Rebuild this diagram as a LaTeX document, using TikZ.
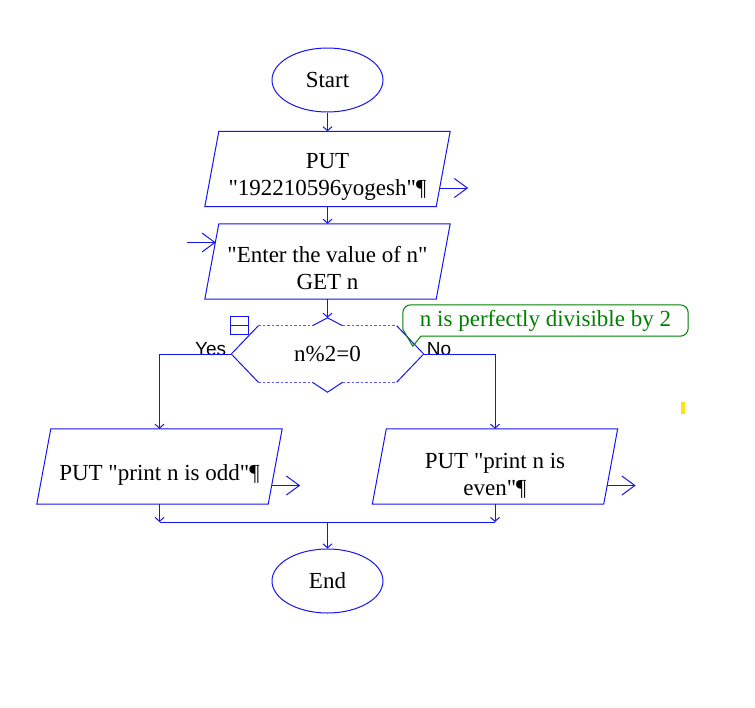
\documentclass[tikz,border=0pt]{standalone}
\usepackage{fontspec}
\setmainfont{Liberation Serif}[Ligatures=TeXOff]
\newfontfamily\arialfont{Liberation Sans}
\definecolor{rapblue}{HTML}{1414F5}
\definecolor{paleblue}{HTML}{5A5AFF}
\definecolor{notegreen}{HTML}{008000}
\definecolor{markyellow}{HTML}{FFE21A}
\usetikzlibrary{shapes.geometric,arrows.meta,positioning,calc}

\begin{document}
\begin{tikzpicture}[x=1pt,y=-1pt,
    flow/.style={rapblue,line width=1pt},
    dotline/.style={paleblue,line width=1pt,dash pattern=on 2.5pt off 2pt},
    tip/.style={flow,-{Straight Barb[length=4pt,width=9pt]}},
    ioarr/.style={flow,-{Straight Barb[length=13pt,width=19pt]}},
    txt/.style={font=\fontsize{23}{27}\selectfont,align=center,inner sep=0pt},
    term/.style={txt,ellipse,draw=rapblue,line width=1pt,minimum width=111pt,minimum height=64pt},
    iobox/.style={txt,minimum width=231pt,minimum height=75pt},
    yesno/.style={font=\arialfont\fontsize{19}{22}\selectfont,inner sep=0pt}]
  \useasboundingbox (0,0) rectangle (755,707);

  \node[term] (start) at (327.5,80) {Start};
  \node[iobox,label={[txt,name=put1txt,yshift=-8pt]center:{PUT\\"192210596yogesh"¶}}] (put1) at (327.5,169) {};
  \node[iobox,label={[txt,name=get1txt,yshift=-7pt]center:{"Enter the value of n"\\GET n}}] (get1) at (327.5,261.5) {};
  \node[txt,minimum width=192pt,minimum height=56pt] (dec) at (327.5,354) {n\%2=0};
  \node[iobox,label={[txt,name=oddtxt,yshift=-8pt]center:{PUT "print n is odd"¶}}] (odd) at (159.5,466.5) {};
  \node[iobox,label={[txt,name=eventxt,yshift=-9pt]center:{PUT "print n is\\even"¶}}] (even) at (495,466.5) {};
  \node[term] (stop) at (327.5,581) {End};
  \node[txt,text=notegreen,minimum width=285pt,minimum height=31pt] (note) at (545.5,320.5) {n is perfectly divisible by 2};
  \node[yesno,anchor=base east] (yes) at ([shift={(-5,1)}]dec.west) {Yes};
  \node[yesno,anchor=base west] (no) at ([shift={(3,1)}]dec.east) {No};

  \foreach \b in {put1,get1,odd,even}
    \draw[flow] ([shift={(7,0)}]\b.north west) -- ([shift={(7,0)}]\b.north east)
      -- ([shift={(-7,0)}]\b.south east) -- ([shift={(-7,0)}]\b.south west) -- cycle;

  \coordinate (dectop) at ([shift={(0,-8)}]dec.north);
  \coordinate (decbot) at ([shift={(0,10)}]dec.south);
  \draw[flow] ([shift={(27,0)}]dec.north west) -- (dec.west) -- ([shift={(27,0)}]dec.south west);
  \draw[flow] ([shift={(-27,0)}]dec.north east) -- (dec.east) -- ([shift={(-27,0)}]dec.south east);
  \draw[flow] ([shift={(81,0)}]dec.north west) -- (dectop) -- ([shift={(-81,0)}]dec.north east);
  \draw[flow] ([shift={(81,0)}]dec.south west) -- (decbot) -- ([shift={(-81,0)}]dec.south east);
  \draw[dotline] ([shift={(27,0)}]dec.north west) -- ([shift={(81,0)}]dec.north west);
  \draw[dotline] ([shift={(-81,0)}]dec.north east) -- ([shift={(-27,0)}]dec.north east);
  \draw[dotline] ([shift={(27,0)}]dec.south west) -- ([shift={(81,0)}]dec.south west);
  \draw[dotline] ([shift={(-81,0)}]dec.south east) -- ([shift={(-27,0)}]dec.south east);
  \draw[flow] ([shift={(-0.5,-9)}]dec.north west) rectangle ([shift={(17.5,9)}]dec.north west);
  \draw[flow] ([shift={(-0.5,0)}]dec.north west) -- ([shift={(17.5,0)}]dec.north west);

  \draw[notegreen,line width=1pt] ([shift={(0,-7)}]note.south west) -- ([shift={(10,10)}]note.south west)
    -- ([shift={(18,0)}]note.south west) [rounded corners=8pt] -- (note.south east) -- (note.north east)
    -- (note.north west) -- ([shift={(0,-7)}]note.south west);

  \draw[tip] (start.south) -- (put1.north);
  \draw[tip] (put1.south) -- (get1.north);
  \draw[tip] (get1.south) -- (dectop);
  \draw[tip] (dec.west) -| (odd.north);
  \draw[tip] (dec.east) -| (even.north);
  \coordinate (join) at (327.5,522);
  \draw[tip] (odd.south) -- (odd.south |- join);
  \draw[tip] (even.south) -- (even.south |- join);
  \draw[flow] (odd.south |- join) -- (even.south |- join);
  \draw[tip] (join) -- (stop.north);

  \draw[ioarr] ([shift={(-4,19)}]put1.east) -- +(29,0);
  \draw[ioarr] ([shift={(-25,-19)}]get1.west) -- +(29,0);
  \draw[ioarr] ([shift={(-4,19)}]odd.east) -- +(29,0);
  \draw[ioarr] ([shift={(-4,19)}]even.east) -- +(29,0);

  \fill[markyellow] (681,402) rectangle (685,414);
\end{tikzpicture}
\end{document}
